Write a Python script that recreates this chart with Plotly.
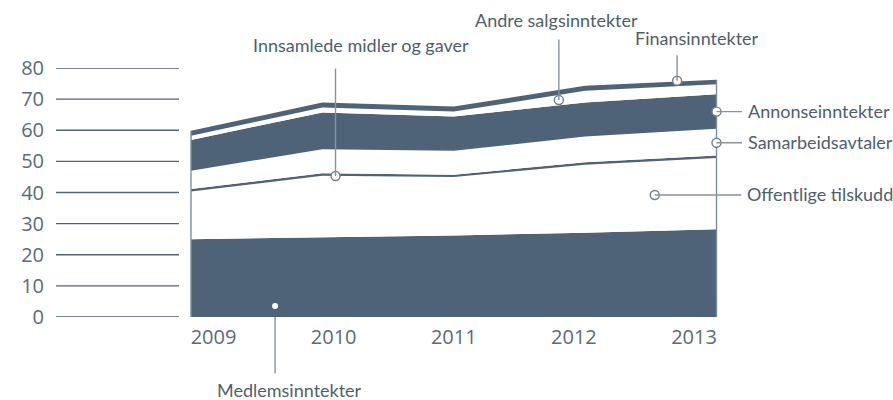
import plotly.graph_objects as go

# ---- data ----
years = [2009, 2010, 2011, 2012, 2013]
medlemsinntekter = [25.0, 25.6, 26.2, 27.1, 28.2]
offentlige_tilskudd = [15.3, 19.8, 18.8, 21.8, 22.9]
innsamlede_midler = [0.8, 0.8, 0.7, 0.8, 0.8]
samarbeidsavtaler = [5.9, 7.7, 7.7, 8.3, 8.6]
annonseinntekter = [9.9, 11.8, 11.0, 10.9, 11.1]
andre_salgsinntekter = [1.3, 1.6, 1.6, 3.8, 3.2]
finansinntekter = [1.6, 1.6, 1.6, 1.6, 1.4]
y_ticks = [0, 10, 20, 30, 40, 50, 60, 70, 80]
x_ticktext = ["2009", "2010", "2011", "2012", "2013"]

DARK = "#4e6377"
WHITE = "#ffffff"
TXT = "#4c5f70"
TICK = "#586c7d"
LEAD = "#8594a1"

series = [
    ("Medlemsinntekter", medlemsinntekter, DARK),
    ("Offentlige tilskudd", offentlige_tilskudd, WHITE),
    ("Innsamlede midler og gaver", innsamlede_midler, DARK),
    ("Samarbeidsavtaler", samarbeidsavtaler, WHITE),
    ("Annonseinntekter", annonseinntekter, DARK),
    ("Andre salgsinntekter", andre_salgsinntekter, WHITE),
    ("Finansinntekter", finansinntekter, DARK),
]

fig = go.Figure()
for name, vals, col in series:
    fig.add_trace(go.Scatter(
        x=years, y=vals, name=name, stackgroup="s", mode="lines",
        line=dict(width=0, color=col), fillcolor=col, hoverinfo="skip",
    ))

totals = [sum(v[i] for _, v, _ in series) for i in range(len(years))]

# edge lines of the stacked block
fig.add_trace(go.Scatter(
    x=[years[0], years[0], None, years[-1], years[-1]],
    y=[0, totals[0], None, 0, totals[-1]],
    mode="lines", line=dict(color="#7d8e9c", width=1.4),
    hoverinfo="skip", cliponaxis=False,
))

# label anchor points (year position, value)
label_points = [
    # name, x, y, arrow ax, ay, text xshift, yshift, xanchor
    ("Innsamlede midler og gaver", 2010.10, 45.3, 0, -109, 25, 131, "center"),
    ("Andre salgsinntekter", 2011.80, 69.7, 0, -62, -2, 80, "center"),
    ("Finansinntekter", 2012.70, 75.9, 0, -27, 20, 43, "center"),
    ("Annonseinntekter", 2013.0, 66.0, 27, 0, 29, 1, "left"),
    ("Samarbeidsavtaler", 2013.0, 56.0, 27, 0, 29, 1, "left"),
    ("Offentlige tilskudd", 2012.53, 39.2, 88, 0, 90.5, 1, "left"),
]

LABEL_FONT = dict(family="Lato", size=18, color=TXT)

for name, x, y, ax, ay, xs, ys, xa in label_points:
    fig.add_annotation(x=x, y=y, xref="x", yref="y", text="", showarrow=True,
                       ax=ax, ay=ay, arrowhead=0, arrowwidth=1.4, arrowcolor=LEAD,
                       standoff=0, startstandoff=0, font=dict(size=1))
    fig.add_annotation(x=x, y=y, xref="x", yref="y", text=name, showarrow=False,
                       xshift=xs, yshift=ys, xanchor=xa, yanchor="middle",
                       font=LABEL_FONT)

# Medlemsinntekter: leader below the axis
med_x = 2009.64
fig.add_annotation(x=med_x, y=0, xref="x", yref="y", text="", showarrow=True,
                   ax=0, ay=58, arrowhead=0, arrowwidth=1.4, arrowcolor=LEAD,
                   standoff=0, startstandoff=0, font=dict(size=1))
fig.add_annotation(x=med_x, y=0, xref="x", yref="y", text="Medlemsinntekter",
                   showarrow=False, xshift=14, yshift=-73, xanchor="center",
                   yanchor="middle", font=LABEL_FONT)

# markers
mx = [p[1] for p in label_points]
my = [p[2] for p in label_points]
fig.add_trace(go.Scatter(
    x=mx, y=my, mode="markers", cliponaxis=False, hoverinfo="skip",
    marker=dict(size=9, color="white", line=dict(color="#6f8191", width=1.4)),
))
fig.add_trace(go.Scatter(
    x=[med_x], y=[3.5], mode="markers", hoverinfo="skip",
    marker=dict(size=6, color="white", line=dict(width=0)),
))

# short gridlines left of the chart
for v in y_ticks:
    fig.add_shape(type="line", xref="paper", yref="y", x0=0, x1=0.1852,
                  y0=v, y1=v, line=dict(color=DARK, width=1.3), layer="below")

# pixel geometry: 2009 at 191px, 2013 at 716.5px, plot from 56px to 720px
px_per_year = (716.5 - 191) / 4
x0 = 2009 - (191 - 56) / px_per_year
x1 = 2013 + (720 - 716.5) / px_per_year
half_lab = 22.5 / px_per_year
n = len(x_ticktext)
tick_pos = [2009 + half_lab + i * (4 - 2 * half_lab) / (n - 1) for i in range(n)]

fig.update_layout(
    width=893, height=400,
    margin=dict(l=56, r=173, t=68, b=83, autoexpand=False),
    paper_bgcolor="white", plot_bgcolor="white",
    showlegend=False,
    xaxis=dict(range=[x0, x1], tickvals=tick_pos, ticktext=x_ticktext,
               showgrid=False, zeroline=False, showline=False, ticks="",
               ticklabelstandoff=6,
               tickfont=dict(family="Open Sans", size=20, color=TICK)),
    yaxis=dict(range=[0, 80], tickvals=y_ticks, showgrid=False, zeroline=False,
               showline=False, ticks="", ticklabelstandoff=11,
               tickfont=dict(family="Open Sans", size=20, color=TICK)),
)

fig.write_html(
    "out.html",
    config={"displayModeBar": False},
    post_script="document.body.style.margin='0';document.body.style.overflow='hidden';",
)
